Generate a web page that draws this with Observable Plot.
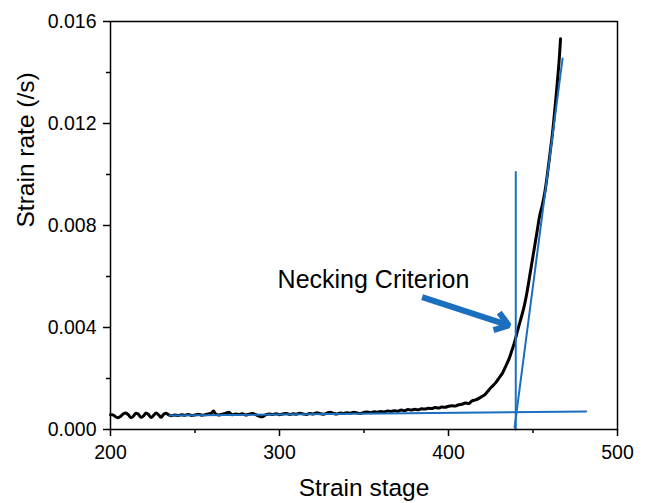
<!DOCTYPE html>
<html><head><meta charset="utf-8">
<script src="https://cdn.jsdelivr.net/npm/d3@7"></script>
<script src="https://cdn.jsdelivr.net/npm/@observablehq/plot@0.6"></script>
<style>body{margin:0;background:#fff} svg{display:block}</style>
</head><body><div id="chart"></div>
<script>
// Black measured curve
const stage = [200,201.5,203,204.5,206,207.5,209,210.5,212,213.5,215,216.5,218,219.5,221,222.5,224,225.5,227,228.5,230,231.5,233,234.5,236,
238,240,242,244,246,248,250,252,254,256,258,260,261,262,264,266,268,270,272,274,276,278,280,282,284,286,288,290,292,294,296,298,
300,302,304,306,308,310,312,314,316,318,320,322,324,326,328,330,332,334,336,338,340,342,344,346,348,350,352,354,356,358,
360,362,364,366,368,370,372,374,376,378,380,382,384,386,388,390,392,394,396,398,400,402,404,406,408,410,412,414,416,418,
420,422,424,426,428,430,432,434,436,437.5,439,440.5,442,443.5,445,446.5,448,449.5,451,452.5,454,455.5,457,458.5,460,461.5,463,464.5,465.5,466.3];
const rate = [0.00058,0.00057,0.00050,0.00046,0.00052,0.00061,0.00065,0.00058,0.00047,0.00052,0.00064,0.00060,0.00048,0.00053,0.00065,0.00058,0.00047,0.00055,0.00065,0.00057,0.00048,0.00060,0.00064,0.00057,0.00054,
0.00057,0.00055,0.00058,0.00056,0.00059,0.00055,0.00057,0.00060,0.00056,0.00058,0.00061,0.00066,0.00073,0.00062,0.00057,0.00060,0.00063,0.00068,0.00058,0.00061,0.00059,0.00062,0.00057,0.00060,0.00063,0.00058,0.00052,0.00050,0.00058,0.00061,0.00059,0.00062,
0.00058,0.00061,0.00063,0.00059,0.00062,0.00060,0.00064,0.00061,0.00059,0.00063,0.00061,0.00066,0.00062,0.00060,0.00064,0.00068,0.00063,0.00061,0.00065,0.00063,0.00066,0.00064,0.00068,0.00065,0.00063,0.00067,0.00069,0.00066,0.00070,0.00068,
0.00071,0.00069,0.00073,0.00071,0.00074,0.00072,0.00076,0.00074,0.00078,0.00076,0.00079,0.00077,0.00081,0.00080,0.00083,0.00082,0.00086,0.00084,0.00088,0.00087,0.00091,0.00093,0.00092,0.00097,0.00099,0.00104,0.00102,0.00112,0.00116,0.00122,
0.00130,0.00140,0.00156,0.00170,0.00184,0.00203,0.00222,0.00250,0.00280,0.00310,0.00340,0.00378,0.00415,0.00450,0.00490,0.00540,0.00600,0.00660,0.00720,0.00780,0.00840,0.00880,0.00930,0.01000,0.01080,0.01160,0.01260,0.01370,0.01450,0.01532];

// Blue construction lines
const baselineX = [235, 481.5];
const baselineY = [0.00055, 0.00071];
const verticalX = [439.8, 439.8];
const verticalY = [0, 0.0101];
const tangentX = [439.1, 467.5];
const tangentY = [0.00008, 0.01455];

// Annotation
const noteText = ["Necking Criterion"];
const noteX = [355.6];
const noteY = [0.00588];
const arrowFrom = [384.4, 0.00519];
const arrowTo = [435.7, 0.00408];

// Ticks
const xMajor = [200, 300, 400, 500];
const xMinor = [250, 350, 450];
const yMajor = [0, 0.004, 0.008, 0.012, 0.016];
const yMinor = [0.002, 0.006, 0.010, 0.014];

const xLabel = "Strain stage";
const yLabel = "Strain rate (/s)";

const blue = "#1c6ebf";
const toPts = (xs, ys) => xs.map((x, i) => ({x, y: ys[i]}));
const curve = toPts(stage, rate);

const chart = Plot.plot({
  width: 646, height: 503,
  marginLeft: 110, marginRight: 29, marginTop: 21, marginBottom: 74,
  style: {fontFamily: "'Liberation Sans', Arial, sans-serif", background: "#fff", color: "#000"},
  x: {domain: [200, 500], label: null},
  y: {domain: [0, 0.016], label: null},
  marks: [
    Plot.axisX(xMajor, {tickSize: 7, tickPadding: 9, fontSize: 19.5, strokeWidth: 1.5, label: null, tickFormat: d => String(d)}),
    Plot.axisX(xMinor, {tickSize: 4, strokeWidth: 1.5, label: null, tickFormat: () => ""}),
    Plot.axisY(yMajor, {tickSize: 7, tickPadding: 7, fontSize: 19.5, strokeWidth: 1.5, label: null, tickFormat: d3.format(".3f")}),
    Plot.axisY(yMinor, {tickSize: 4, strokeWidth: 1.5, label: null, tickFormat: () => ""}),
    Plot.line(curve, {x: "x", y: "y", stroke: "#000", strokeWidth: 3, curve: "catmull-rom"}),
    Plot.line(toPts(baselineX, baselineY), {x: "x", y: "y", stroke: blue, strokeWidth: 2}),
    Plot.line(toPts(verticalX, verticalY), {x: "x", y: "y", stroke: blue, strokeWidth: 2}),
    Plot.line(toPts(tangentX, tangentY), {x: "x", y: "y", stroke: blue, strokeWidth: 2}),
    Plot.arrow([{x1: arrowFrom[0], y1: arrowFrom[1], x2: arrowTo[0], y2: arrowTo[1]}],
      {x1: "x1", y1: "y1", x2: "x2", y2: "y2", stroke: blue, strokeWidth: 6, headLength: 4, headAngle: 70, strokeLinecap: "butt", strokeLinejoin: "miter"}),
    Plot.text(noteText, {x: noteX, y: noteY, text: d => d, fontSize: 25, fill: "#000", lineAnchor: "middle"}),
    Plot.text([xLabel], {frameAnchor: "bottom", dy: 59, text: d => d, fontSize: 24.5, fill: "#000", lineAnchor: "middle"}),
    Plot.text([yLabel], {frameAnchor: "left", dx: -84, dy: 2, rotate: -90, text: d => d, fontSize: 24.5, fill: "#000", lineAnchor: "middle"}),
    Plot.frame({stroke: "#000", strokeWidth: 1.5})
  ]
});
document.getElementById("chart").appendChild(chart);
</script>
</body></html>
